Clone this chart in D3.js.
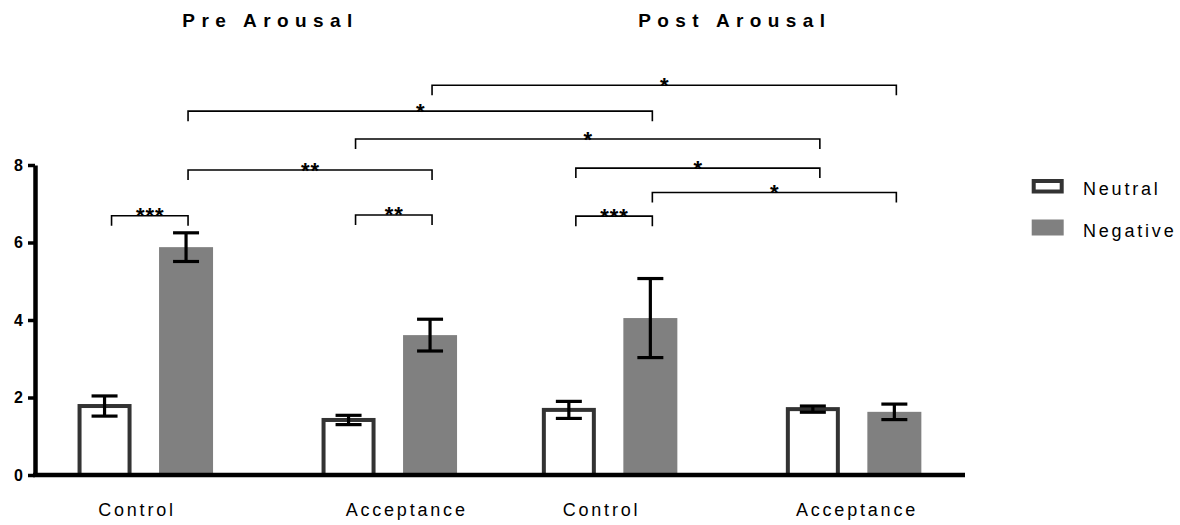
<!DOCTYPE html>
<html>
<head>
<meta charset="utf-8">
<script src="https://cdn.jsdelivr.net/npm/d3@7"></script>
<style>
  body { margin: 0; background: #fff; }
  svg { display: block; font-family: "Liberation Sans", Arial, sans-serif; }
</style>
</head>
<body>
<div id="chart"></div>
<script>
// data
var phases = ["Pre Arousal", "Post Arousal"];
var conditions = ["Control", "Acceptance"];
var seriesNames = ["Neutral", "Negative"];

// [phase][condition] means and SEM
var neutralMeans = [[1.78, 1.42], [1.68, 1.70]];
var neutralErr = [[0.26, 0.12], [0.22, 0.08]];
var negativeMeans = [[5.88, 3.61], [4.05, 1.63]];
var negativeErr = [[0.37, 0.41], [1.02, 0.20]];

var yTicks = [0, 2, 4, 6, 8];

// significance brackets: [phase, condition, series] -> [phase, condition, series], label, height (y units)
var brackets = [
  { from: [0, 1, 1], to: [1, 1, 1], label: "*", level: 10.06 },
  { from: [0, 0, 1], to: [1, 0, 1], label: "*", level: 9.39 },
  { from: [0, 1, 0], to: [1, 1, 0], label: "*", level: 8.67 },
  { from: [0, 0, 1], to: [0, 1, 1], label: "**", level: 7.87 },
  { from: [1, 0, 0], to: [1, 1, 0], label: "*", level: 7.92 },
  { from: [1, 0, 1], to: [1, 1, 1], label: "*", level: 7.29 },
  { from: [0, 0, 0], to: [0, 0, 1], label: "***", level: 6.69 },
  { from: [0, 1, 0], to: [0, 1, 1], label: "**", level: 6.71 },
  { from: [1, 0, 0], to: [1, 0, 1], label: "***", level: 6.68 }
];

// build flat table for drawing
var bars = [];
phases.forEach(function(p, pi) {
  conditions.forEach(function(c, ci) {
    bars.push({ phase: p, cond: c, series: "Neutral", value: neutralMeans[pi][ci], err: neutralErr[pi][ci] });
    bars.push({ phase: p, cond: c, series: "Negative", value: negativeMeans[pi][ci], err: negativeErr[pi][ci] });
  });
});

var svg = d3.select("#chart").append("svg")
  .attr("width", 1180)
  .attr("height", 525);

// scales
var yScale = d3.scaleLinear().domain([0, 8]).range([475, 165]);
var xPhase = d3.scalePoint().domain(phases).range([267.3, 731.6]);
var xCond = d3.scalePoint().domain(conditions).range([-122, 122]);
var xSeries = d3.scalePoint().domain(seriesNames).range([-40.75, 40.75]);

function xPos(p, c, s) {
  return xPhase(p) + xCond(c) + xSeries(s);
}

var barW = 54;
var capW = 26;
var grey = "#808080";
var dark = "#333333";

// bars
svg.append("g").selectAll("rect")
  .data(bars)
  .enter()
  .append("rect")
  .attr("x", function(d) { return xPos(d.phase, d.cond, d.series) - (d.series == "Neutral" ? barW / 2 - 2 : barW / 2); })
  .attr("width", function(d) { return d.series == "Neutral" ? barW - 4 : barW; })
  .attr("y", function(d) { return yScale(d.value); })
  .attr("height", function(d) { return yScale(0) - yScale(d.value); })
  .attr("fill", function(d) { return d.series == "Neutral" ? "#fff" : grey; })
  .attr("stroke", function(d) { return d.series == "Neutral" ? dark : "none"; })
  .attr("stroke-width", 4);

// error bars
var errG = svg.append("g").attr("stroke", "#000").attr("stroke-width", 3.2);
bars.forEach(function(d) {
  var cx = xPos(d.phase, d.cond, d.series);
  var top = yScale(d.value + d.err);
  var bot = yScale(d.value - d.err);
  errG.append("line").attr("x1", cx).attr("x2", cx).attr("y1", top).attr("y2", bot);
  errG.append("line").attr("x1", cx - capW / 2).attr("x2", cx + capW / 2).attr("y1", top).attr("y2", top);
  errG.append("line").attr("x1", cx - capW / 2).attr("x2", cx + capW / 2).attr("y1", bot).attr("y2", bot);
});

// y axis
var yAxis = d3.axisLeft(yScale).tickValues(yTicks).tickSize(7).tickSizeOuter(0).tickPadding(5);
var yG = svg.append("g")
  .attr("transform", "translate(35,0)")
  .call(yAxis);
yG.select(".domain").attr("stroke", "#000").attr("stroke-width", 4.5);
yG.selectAll(".tick line").attr("stroke", "#000").attr("stroke-width", 3.5);
yG.selectAll(".tick text")
  .style("font-family", "'Liberation Sans', Arial, sans-serif")
  .style("font-size", "16px")
  .style("font-weight", "bold")
  .attr("fill", "#000");

// x baseline
svg.append("line")
  .attr("x1", 33).attr("x2", 965)
  .attr("y1", yScale(0)).attr("y2", yScale(0))
  .attr("stroke", "#000")
  .attr("stroke-width", 4.5);

// category labels (small nudges to follow the original placement)
var labelNudge = { "Pre Arousal": { Control: -9.7, Acceptance: 16 }, "Post Arousal": { Control: -9.5, Acceptance: 2 } };
phases.forEach(function(p) {
  conditions.forEach(function(c) {
    svg.append("text")
      .attr("x", xPhase(p) + xCond(c) + labelNudge[p][c] + 1.4)
      .attr("y", 516)
      .attr("text-anchor", "middle")
      .attr("font-size", 18)
      .attr("letter-spacing", 2.8)
      .attr("fill", "#000")
      .text(c);
  });
});

// phase titles
svg.selectAll(".title")
  .data(phases)
  .enter()
  .append("text")
  .attr("class", "title")
  .attr("x", function(d) { return xPhase(d) + 3.2; })
  .attr("y", 26.7)
  .attr("text-anchor", "middle")
  .attr("font-size", 19)
  .attr("font-weight", "bold")
  .attr("letter-spacing", 6.4)
  .attr("fill", "#000")
  .text(function(d) { return d; });

// significance brackets
function endX(e) {
  // bracket legs sit a bit right of the bar centre
  return xPos(phases[e[0]], conditions[e[1]], seriesNames[e[2]]) + (e[2] == 0 ? 7 : 2);
}
var brG = svg.append("g");
brackets.forEach(function(b) {
  var x1 = endX(b.from), x2 = endX(b.to), y = yScale(b.level);
  brG.append("path")
    .attr("d", "M" + x1 + "," + (y + 10) + "V" + y + "H" + x2 + "V" + (y + 10))
    .attr("fill", "none")
    .attr("stroke", "#000")
    .attr("stroke-width", 1.6);
  brG.append("text")
    .attr("x", (x1 + x2) / 2 + 0.5)
    .attr("y", y + 7.5)
    .attr("text-anchor", "middle")
    .attr("font-size", 22)
    .attr("font-weight", "bold")
    .attr("letter-spacing", 1)
    .attr("fill", "#000")
    .text(b.label);
});

// legend
var legend = svg.append("g");
seriesNames.forEach(function(s, i) {
  var ly = 181 + i * 40;
  if (s == "Neutral") {
    legend.append("rect")
      .attr("x", 1033.7).attr("y", ly)
      .attr("width", 28).attr("height", 10.5)
      .attr("fill", "#fff").attr("stroke", dark).attr("stroke-width", 4);
  } else {
    legend.append("rect")
      .attr("x", 1031.7).attr("y", ly - 1.5)
      .attr("width", 32).attr("height", 16)
      .attr("fill", grey);
  }
  legend.append("text")
    .attr("x", 1083)
    .attr("y", ly + 14 + i * 1.5)
    .attr("font-size", 18)
    .attr("letter-spacing", 2.8)
    .attr("fill", "#000")
    .text(s);
});
</script>
</body>
</html>
